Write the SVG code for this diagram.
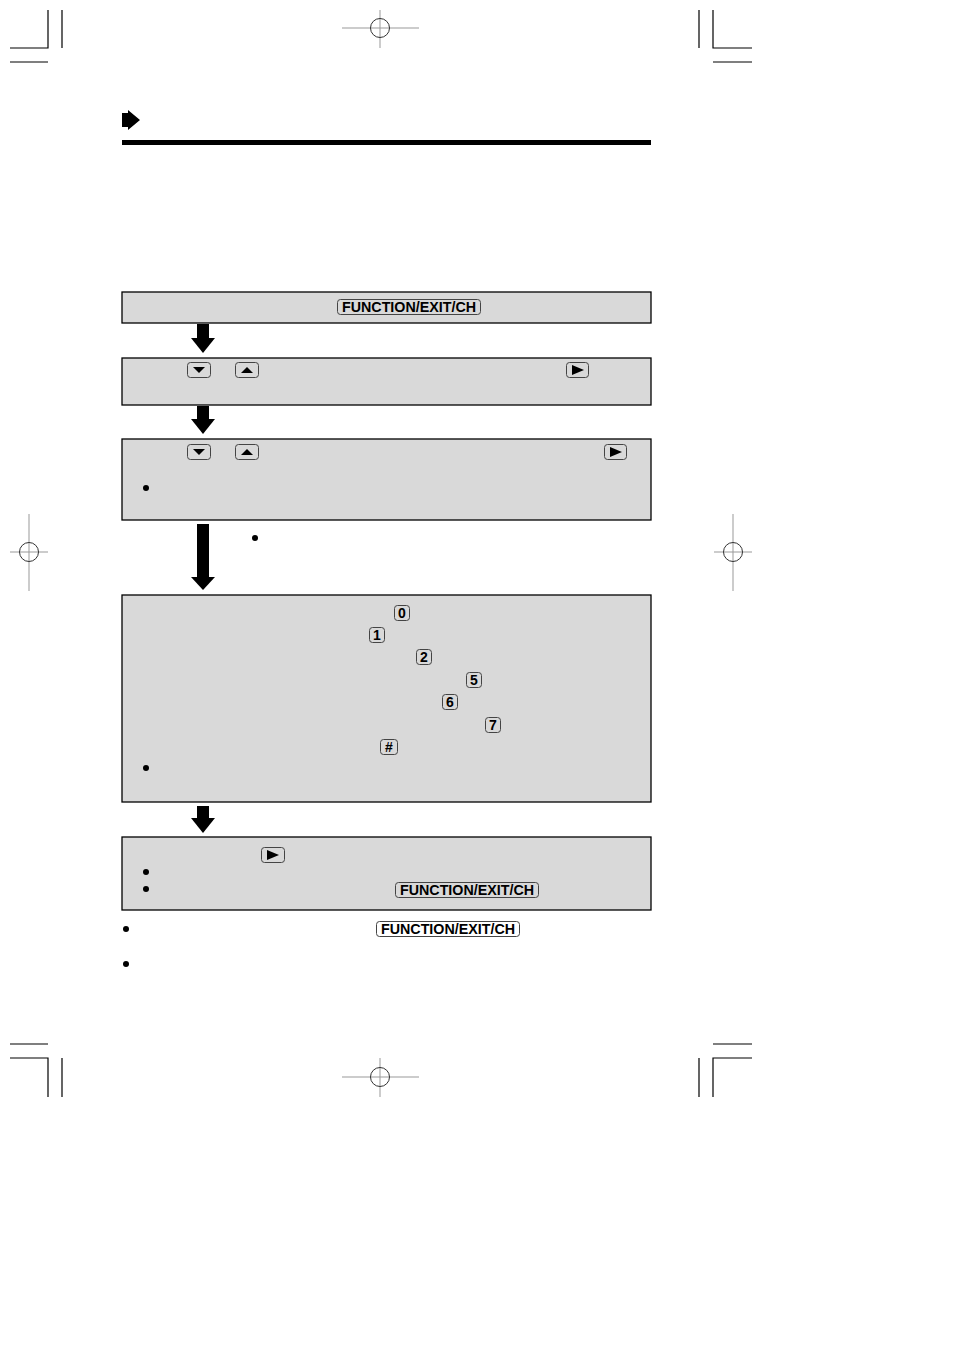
<svg xmlns="http://www.w3.org/2000/svg" width="954" height="1351" viewBox="0 0 954 1351">
<defs>
<style>
.box{fill:#d9d9d9;stroke:#000;stroke-width:1.3}
.key{fill:none;stroke:#444;stroke-width:1}
.kt{font-family:"Liberation Sans",Arial,sans-serif;font-weight:bold;font-size:14px;fill:#000;text-anchor:middle}
.crop{stroke:#000;stroke-width:1.2;fill:none}
.reg{stroke:#999;stroke-width:1;fill:none}
.regc{stroke:#333;stroke-width:1;fill:none}
.arr{fill:#000}
</style>
</defs>
<rect width="954" height="1351" fill="#fff"/>
<g id="cropmarks">
<path class="crop" d="M10 48H48V10M62 10V48M10 62H48"/>
<path class="crop" d="M699 10V48M713 10V48H752M713 62H752"/>
<path class="crop" d="M10 1044H48M10 1058H48V1097M62 1058V1097"/>
<path class="crop" d="M713 1044H752M752 1058H713V1097M699 1058V1097"/>
<path class="reg" d="M342 28H419M380 10V48"/><circle class="regc" cx="380" cy="28" r="9.5"/>
<path class="reg" d="M342 1077H419M380 1058V1097"/><circle class="regc" cx="380" cy="1077" r="9.5"/>
<path class="reg" d="M10 552H48M29 514V591"/><circle class="regc" cx="29" cy="552" r="9.5"/>
<path class="reg" d="M714 552H752M733 514V591"/><circle class="regc" cx="733" cy="552" r="9.5"/>
</g>
<g id="header">
<polygon points="122,113 128,113 128,110 140,120 128,130 128,127 122,127" fill="#000"/>
<rect x="122" y="140" width="529" height="5" fill="#000"/>
</g>
<g id="connectors">
<rect class="arr" x="197" y="324" width="12" height="15"/><polygon class="arr" points="191,338 215,338 203,353"/>
<rect class="arr" x="197" y="406" width="12" height="14"/><polygon class="arr" points="191,419 215,419 203,434"/>
<rect class="arr" x="197" y="524" width="12" height="54"/><polygon class="arr" points="191,577 215,577 203,590"/>
<rect class="arr" x="197" y="806" width="12" height="13"/><polygon class="arr" points="191,818 215,818 203,833"/>
</g>
<g id="step1">
<rect class="box" x="122" y="292" width="529" height="31"/>
<rect class="key" x="337.5" y="299.5" width="143" height="15" rx="3"/>
<text class="kt" x="409" y="312" textLength="134" lengthAdjust="spacingAndGlyphs">FUNCTION/EXIT/CH</text>
</g>
<g id="step2">
<rect class="box" x="122" y="358" width="529" height="47"/>
<rect class="key" x="187.5" y="362.5" width="23" height="15" rx="3"/><polygon points="193,367 205,367 199,373" fill="#000"/>
<rect class="key" x="235.5" y="362.5" width="23" height="15" rx="3"/><polygon points="241,373 253,373 247,367" fill="#000"/>
<rect class="key" x="566.5" y="362.5" width="22" height="15" rx="3"/><polygon points="572,365 572,375 584,370" fill="#000"/>
</g>
<g id="step3">
<rect class="box" x="122" y="439" width="529" height="81"/>
<rect class="key" x="187.5" y="444.5" width="23" height="15" rx="3"/><polygon points="193,449 205,449 199,455" fill="#000"/>
<rect class="key" x="235.5" y="444.5" width="23" height="15" rx="3"/><polygon points="241,455 253,455 247,449" fill="#000"/>
<rect class="key" x="604.5" y="444.5" width="22" height="15" rx="3"/><polygon points="610,447 610,457 622,452" fill="#000"/>
<circle cx="146" cy="488" r="3" fill="#000"/>
</g>
<g id="note3">
<circle cx="255" cy="538" r="3" fill="#000"/>
</g>
<g id="step4">
<rect class="box" x="122" y="595" width="529" height="207"/>
<rect class="key" x="394.5" y="605.5" width="15" height="15" rx="3"/><text class="kt" x="402" y="618">0</text>
<rect class="key" x="369.5" y="627.5" width="15" height="15" rx="3"/><text class="kt" x="377" y="640">1</text>
<rect class="key" x="416.5" y="649.5" width="15" height="15" rx="3"/><text class="kt" x="424" y="662">2</text>
<rect class="key" x="466.5" y="672.5" width="15" height="15" rx="3"/><text class="kt" x="474" y="685">5</text>
<rect class="key" x="442.5" y="694.5" width="15" height="15" rx="3"/><text class="kt" x="450" y="707">6</text>
<rect class="key" x="485.5" y="717.5" width="15" height="15" rx="3"/><text class="kt" x="493" y="730">7</text>
<rect class="key" x="380.5" y="739.5" width="17" height="15" rx="3"/><text class="kt" x="389" y="752">#</text>
<circle cx="146" cy="768" r="3" fill="#000"/>
</g>
<g id="step5">
<rect class="box" x="122" y="837" width="529" height="73"/>
<rect class="key" x="261.5" y="847.5" width="23" height="15" rx="3"/><polygon points="267,850 267,860 279,855" fill="#000"/>
<circle cx="146" cy="872" r="3" fill="#000"/>
<circle cx="146" cy="889" r="3" fill="#000"/>
<rect class="key" x="395.5" y="882.5" width="143" height="15" rx="3"/>
<text class="kt" x="467" y="895" textLength="134" lengthAdjust="spacingAndGlyphs">FUNCTION/EXIT/CH</text>
</g>
<g id="notes">
<circle cx="126" cy="929" r="3" fill="#000"/>
<rect class="key" x="376.5" y="921.5" width="143" height="15" rx="3"/>
<text class="kt" x="448" y="934" textLength="134" lengthAdjust="spacingAndGlyphs">FUNCTION/EXIT/CH</text>
<circle cx="126" cy="964" r="3" fill="#000"/>
</g>
</svg>
